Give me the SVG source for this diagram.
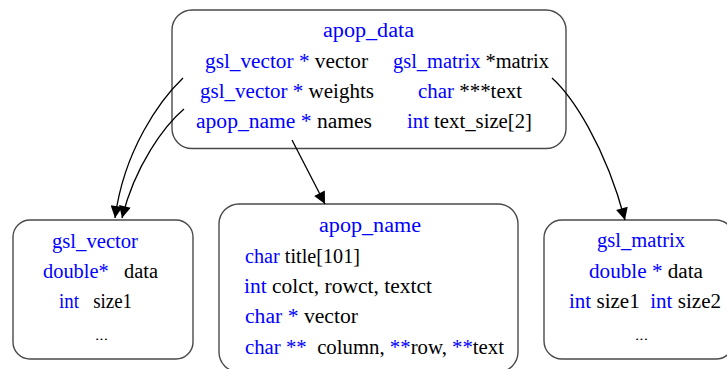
<svg xmlns="http://www.w3.org/2000/svg" width="727" height="369" viewBox="0 0 727 369">
<style>
.box{fill:#fff;stroke:#4a4a4a;stroke-width:1.4}
.b{fill:#0000ff}
.e{fill:none;stroke:#000;stroke-width:1.3}
</style>
<defs>
<marker id="ah" viewBox="0 0 10 10" refX="10" refY="5" markerWidth="16" markerHeight="12" markerUnits="userSpaceOnUse" orient="auto">
<path d="M0,0 L10,5 L0,10 z" fill="#000"/>
</marker>
</defs>
<rect width="727" height="369" fill="#fff"/>
<g id="apop_data">
<rect class="box" x="172" y="10" width="394" height="138.5" rx="20"/>
<text font-family="Liberation Serif" font-size="20" x="323" y="37" textLength="91" lengthAdjust="spacingAndGlyphs" class="b">apop_data</text>
<text font-family="Liberation Serif" font-size="20" x="205" y="68" textLength="163" lengthAdjust="spacingAndGlyphs"><tspan class="b">gsl_vector *</tspan> vector</text>
<text font-family="Liberation Serif" font-size="20" x="393" y="68" textLength="156" lengthAdjust="spacingAndGlyphs"><tspan class="b">gsl_matrix</tspan> *matrix</text>
<text font-family="Liberation Serif" font-size="20" x="200" y="98" textLength="174" lengthAdjust="spacingAndGlyphs"><tspan class="b">gsl_vector *</tspan> weights</text>
<text font-family="Liberation Serif" font-size="20" x="418" y="98" textLength="104" lengthAdjust="spacingAndGlyphs"><tspan class="b">char</tspan> ***text</text>
<text font-family="Liberation Serif" font-size="20" x="196" y="128" textLength="176" lengthAdjust="spacingAndGlyphs"><tspan class="b">apop_name *</tspan> names</text>
<text font-family="Liberation Serif" font-size="20" x="407" y="128" textLength="125" lengthAdjust="spacingAndGlyphs"><tspan class="b">int</tspan> text_size[2]</text>
</g>
<g id="gsl_vector">
<rect class="box" x="13" y="220" width="180" height="139" rx="17"/>
<text font-family="Liberation Serif" font-size="20" x="52" y="248" textLength="86" lengthAdjust="spacingAndGlyphs" class="b">gsl_vector</text>
<text font-family="Liberation Serif" font-size="20" x="43" y="278" textLength="115" lengthAdjust="spacingAndGlyphs" xml:space="preserve"><tspan class="b">double*</tspan>   data</text>
<text font-family="Liberation Serif" font-size="20" x="59" y="308" textLength="73" lengthAdjust="spacingAndGlyphs" xml:space="preserve"><tspan class="b">int</tspan>   size1</text>
<text font-family="Liberation Serif" font-size="13" x="95" y="340" textLength="13" lengthAdjust="spacingAndGlyphs">...</text>
</g>
<g id="apop_name">
<rect class="box" x="219" y="204" width="299" height="168" rx="20"/>
<text font-family="Liberation Serif" font-size="20" x="319" y="232" textLength="102" lengthAdjust="spacingAndGlyphs" class="b">apop_name</text>
<text font-family="Liberation Serif" font-size="20" x="245" y="263" textLength="115" lengthAdjust="spacingAndGlyphs"><tspan class="b">char</tspan> title[101]</text>
<text font-family="Liberation Serif" font-size="20" x="244" y="293" textLength="188" lengthAdjust="spacingAndGlyphs"><tspan class="b">int</tspan> colct, rowct, textct</text>
<text font-family="Liberation Serif" font-size="20" x="245" y="323" textLength="113" lengthAdjust="spacingAndGlyphs"><tspan class="b">char *</tspan> vector</text>
<text font-family="Liberation Serif" font-size="20" x="245" y="354" textLength="259" lengthAdjust="spacingAndGlyphs" xml:space="preserve"><tspan class="b">char **</tspan>  column, <tspan class="b">**</tspan>row, <tspan class="b">**</tspan>text</text>
</g>
<g id="gsl_matrix">
<rect class="box" x="544" y="220" width="190" height="139" rx="18"/>
<text font-family="Liberation Serif" font-size="20" x="597" y="247" textLength="88" lengthAdjust="spacingAndGlyphs" class="b">gsl_matrix</text>
<text font-family="Liberation Serif" font-size="20" x="589" y="278" textLength="114" lengthAdjust="spacingAndGlyphs"><tspan class="b">double *</tspan> data</text>
<text font-family="Liberation Serif" font-size="20" x="569" y="308" textLength="152" lengthAdjust="spacingAndGlyphs" xml:space="preserve"><tspan class="b">int</tspan> size1  <tspan class="b">int</tspan> size2</text>
<text font-family="Liberation Serif" font-size="13" x="635" y="340" textLength="13" lengthAdjust="spacingAndGlyphs">...</text>
</g>
<g id="edges">
<path class="e" d="M183,78 C160,100 124,150 115,218" marker-end="url(#ah)"/>
<path class="e" d="M184,109 C165,125 135,165 122,218" marker-end="url(#ah)"/>
<path class="e" d="M292,140 L325,204" marker-end="url(#ah)"/>
<path class="e" d="M552,78 C572,96 605,145 625,220" marker-end="url(#ah)"/>
</g>
</svg>
